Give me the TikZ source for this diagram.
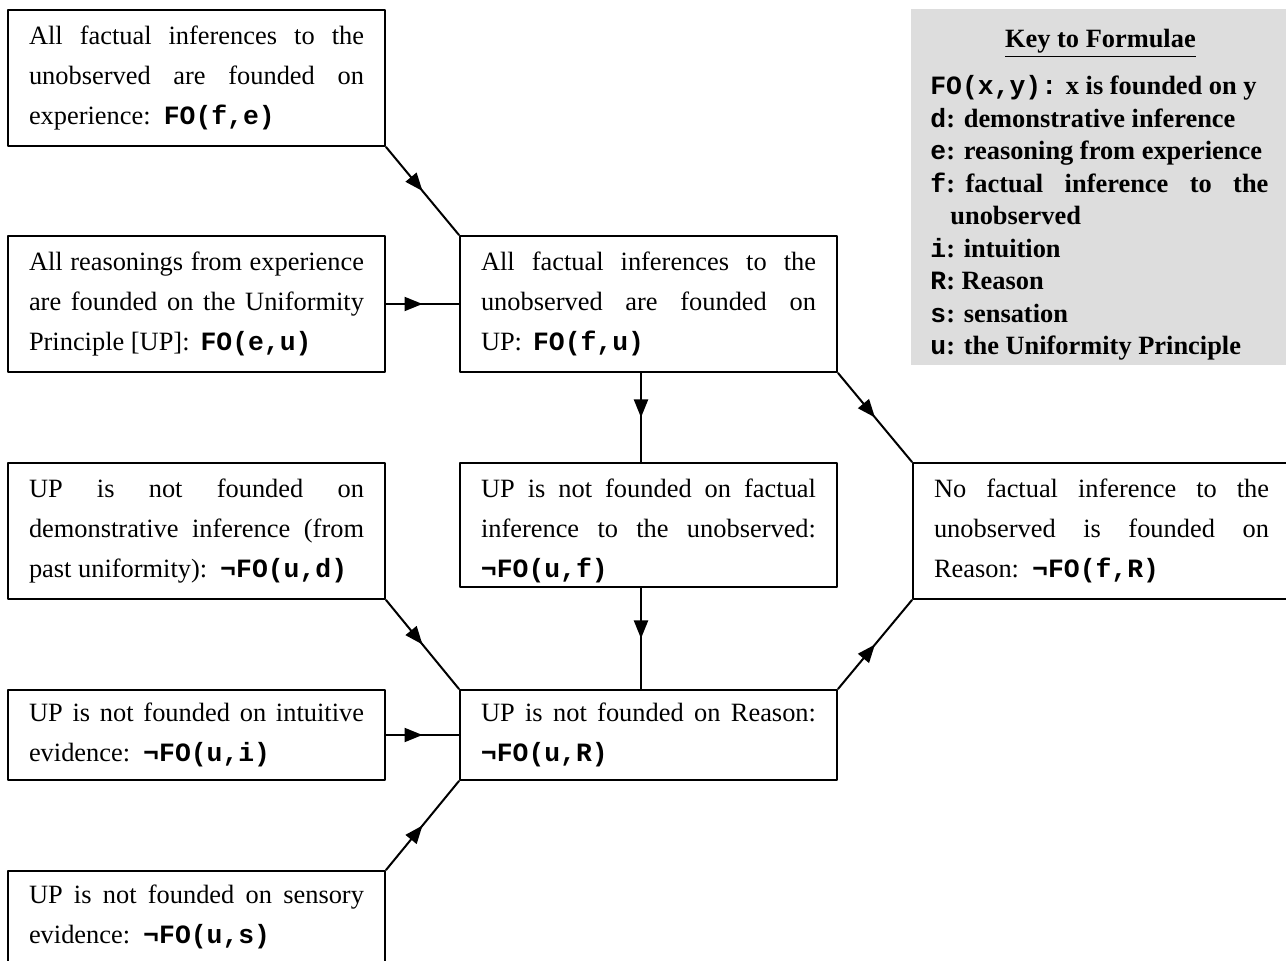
\documentclass[tikz,border=0pt]{standalone}
\usepackage{fontspec}
\setmainfont{Liberation Serif}
\setmonofont{Liberation Mono}
\usetikzlibrary{arrows.meta,decorations.markings,positioning}
\hbadness=10000
\hfuzz=2pt
\definecolor{keygray}{RGB}{221,221,221}
\newcommand{\fo}[1]{\texttt{\textbf{#1}}}

\tikzset{
  claim/.style={draw, line width=1pt, anchor=north west, text width=167.5pt, inner xsep=10.5pt, inner ysep=0pt, align=justify, font=\fontsize{13.2}{20}\selectfont},
  tall/.style={minimum height=68pt},
  short/.style={minimum height=45pt},
  keybox/.style={fill=keygray, anchor=north west, minimum width=189pt, minimum height=178pt, inner sep=0pt},
  keytext/.style={inner sep=0pt, font=\fontsize{13.2}{16.25}\selectfont\bfseries},
  ->-/.style={line width=1pt, decoration={markings, mark=at position 0.5 with {\arrow{Triangle[length=9pt,width=7pt]}}}, postaction={decorate}},
}

\begin{document}
\begin{tikzpicture}[x=0.5pt,y=-0.5pt, line cap=round, line join=round]
\useasboundingbox (0,0) rectangle (1286,961);

\node (key) [keybox] at (911,9) {};
\node (keytitle) [keytext, below=10pt of key.north] {\underline{Key to Formulae}};
\node (keylist) [keytext, anchor=north west, text width=169pt, align=justify, below right=33pt and 9.5pt of key.north west]
  {\fo{FO(x,y):} x is founded on y\\
   \fo{d}: demonstrative inference\\
   \fo{e}: reasoning from experience\\
   \fo{f}:\hspace{0.4em}factual inference to the\linebreak\hspace*{10pt}unobserved\\
   \fo{i}: intuition\\
   \fo{R}: Reason\\
   \fo{s}: sensation\\
   \fo{u}: the Uniformity Principle};

\node (factexp) [claim, tall] at (7,9)
  {All factual inferences to the\linebreak unobserved are founded on\linebreak experience:\, \fo{FO(f,e)}};
\node (reasonup) [claim, tall] at (7,235)
  {All reasonings from experience\linebreak are founded on the Uniformity\linebreak Principle [UP]:\, \fo{FO(e,u)}};
\node (factup) [claim, tall] at (459,235)
  {All factual inferences to the\linebreak unobserved are founded on\linebreak UP:\, \fo{FO(f,u)}};
\node (notdemo) [claim, tall] at (7,462)
  {UP is not founded on\linebreak demonstrative inference (from\linebreak past uniformity):\, \fo{¬FO(u,d)}};
\node (notfact) [claim, minimum height=62pt, text depth=36.9pt] at (459,462)
  {UP is not founded on factual\linebreak inference to the unobserved:\linebreak \fo{¬FO(u,f)}};
\node (noreason) [claim, tall] at (912,462)
  {No factual inference to the\linebreak unobserved is founded on\linebreak Reason:\, \fo{¬FO(f,R)}};
\node (notintuit) [claim, short] at (7,689)
  {UP is not founded on intuitive\linebreak evidence:\, \fo{¬FO(u,i)}};
\node (notreason) [claim, short] at (459,689)
  {UP is not founded on Reason:\linebreak \fo{¬FO(u,R)}};
\node (notsense) [claim, minimum height=46pt] at (7,870)
  {UP is not founded on sensory\linebreak evidence:\, \fo{¬FO(u,s)}};

\draw [->-] (factexp.south east) -- (factup.north west);
\draw [->-] (reasonup.east) -- (factup.west);
\draw [->-] ([xshift=-3.75pt]factup.south) -- ([xshift=-3.75pt]notfact.north);
\draw [->-] (factup.south east) -- (noreason.north west);
\draw [->-] ([xshift=-3.75pt]notfact.south) -- ([xshift=-3.75pt]notreason.north);
\draw [->-] (notdemo.south east) -- (notreason.north west);
\draw [->-] (notintuit.east) -- (notreason.west);
\draw [->-] (notsense.north east) -- (notreason.south west);
\draw [->-] (notreason.north east) -- (noreason.south west);
\end{tikzpicture}
\end{document}
